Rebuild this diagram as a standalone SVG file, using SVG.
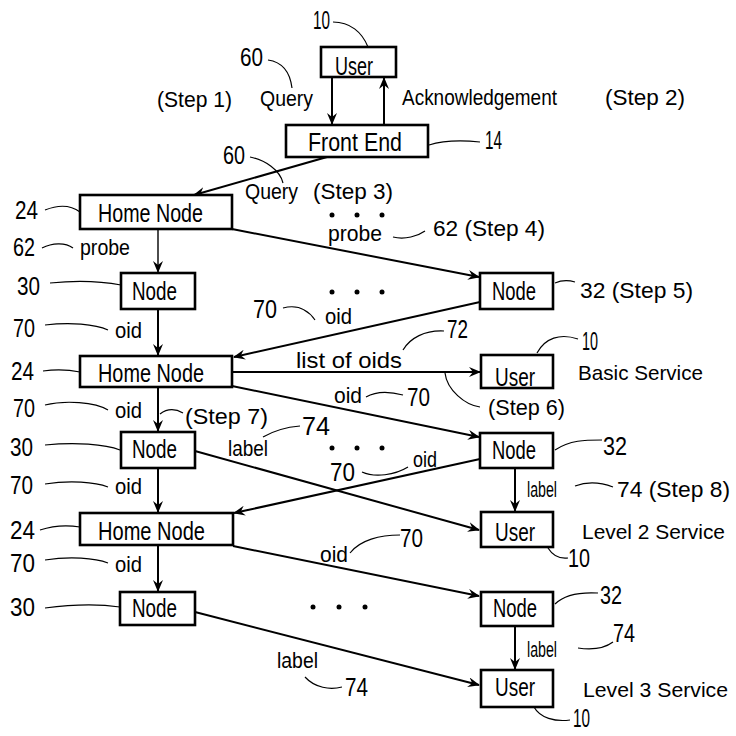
<svg xmlns="http://www.w3.org/2000/svg" width="736" height="736" viewBox="0 0 736 736">
<style>
text{font-family:"Liberation Sans","DejaVu Sans",sans-serif;fill:#000}
.bl{font-size:26px}
.n{font-size:25px}
.s{font-size:22px}
.l{font-size:22px}
.v{font-size:21px}
.box{fill:#fff;stroke:#000;stroke-width:2.6}
.con{fill:none;stroke:#000;stroke-width:2}
.thin{fill:none;stroke:#000;stroke-width:1.4}
.lead{fill:none;stroke:#000;stroke-width:1.2}
</style>
<defs>
<marker id="ar" viewBox="0 0 12 10" refX="11" refY="5" markerWidth="12" markerHeight="10" markerUnits="userSpaceOnUse" orient="auto">
<path d="M0,0 L12,5 L0,10 L4,5 z" fill="#000"/>
</marker>
</defs>
<rect width="736" height="736" fill="#fff"/>
<g id="connectors">
<path class="con" d="M332,78 L332,124" marker-end="url(#ar)"/>
<path class="con" d="M384,125 L384,78" marker-end="url(#ar)"/>
<path class="con" d="M327,157 L194,195" marker-end="url(#ar)"/>
<path class="con" d="M232,229 L479,277" marker-end="url(#ar)"/>
<path class="thin" d="M158,229 L158,272" marker-end="url(#ar)"/>
<path class="con" d="M158,309 L158,355" marker-end="url(#ar)"/>
<path class="con" d="M480,302 L234,357" marker-end="url(#ar)"/>
<path class="con" d="M232,372 L480,372" marker-end="url(#ar)"/>
<path class="con" d="M232,386 L479,437" marker-end="url(#ar)"/>
<path class="con" d="M158,387 L158,431" marker-end="url(#ar)"/>
<path class="con" d="M195,451 L479,530" marker-end="url(#ar)"/>
<path class="con" d="M480,459 L234,513" marker-end="url(#ar)"/>
<path class="con" d="M158,468 L158,512" marker-end="url(#ar)"/>
<path class="con" d="M515,468 L515,511" marker-end="url(#ar)"/>
<path class="con" d="M158,545 L158,591" marker-end="url(#ar)"/>
<path class="con" d="M233,546 L479,596" marker-end="url(#ar)"/>
<path class="con" d="M195,612 L479,685" marker-end="url(#ar)"/>
<path class="con" d="M515,626 L515,669" marker-end="url(#ar)"/>
</g>
<g id="leaders">
<path class="lead" d="M333,22 C350,22 362,32 368,47"/>
<path class="lead" d="M268,60 C282,62 290,72 292,88"/>
<path class="lead" d="M429,145 C445,140 460,140 480,142"/>
<path class="lead" d="M250,157 C265,160 280,170 283,183"/>
<path class="lead" d="M393,237 C405,240 418,236 425,231"/>
<path class="lead" d="M45,210 C60,204 72,206 80,212"/>
<path class="lead" d="M42,248 C52,243 65,242 73,248"/>
<path class="lead" d="M50,283 C80,280 105,282 121,285"/>
<path class="lead" d="M45,325 C70,322 95,324 108,330"/>
<path class="lead" d="M283,308 C298,304 308,310 315,320"/>
<path class="lead" d="M444,331 C425,330 410,338 403,350"/>
<path class="lead" d="M578,339 C560,333 545,338 537,353"/>
<path class="lead" d="M555,283 C562,280 568,280 575,282"/>
<path class="lead" d="M43,371 C58,369 70,370 80,372"/>
<path class="lead" d="M366,397 C378,390 392,392 403,395"/>
<path class="lead" d="M445,373 C447,390 465,405 480,407"/>
<path class="lead" d="M45,405 C65,400 95,402 108,410"/>
<path class="lead" d="M160,414 C168,408 176,409 183,413"/>
<path class="lead" d="M263,437 C275,430 288,427 300,426"/>
<path class="lead" d="M45,445 C75,442 105,444 120,450"/>
<path class="lead" d="M555,450 C570,440 585,440 602,440"/>
<path class="lead" d="M362,472 C375,478 395,475 408,467"/>
<path class="lead" d="M575,486 C588,481 600,482 613,487"/>
<path class="lead" d="M45,484 C70,480 95,482 108,487"/>
<path class="lead" d="M40,530 C55,525 68,525 80,527"/>
<path class="lead" d="M548,548 C553,556 560,559 568,558"/>
<path class="lead" d="M350,553 C360,540 380,535 400,535"/>
<path class="lead" d="M45,560 C70,556 95,558 108,563"/>
<path class="lead" d="M45,608 C75,604 100,604 120,607"/>
<path class="lead" d="M555,604 C565,594 580,592 598,593"/>
<path class="lead" d="M578,648 C592,650 605,648 613,642"/>
<path class="lead" d="M534,707 C540,718 555,722 570,720"/>
<path class="lead" d="M305,677 C315,688 330,690 342,687"/>
</g>
<g id="dots" fill="#000">
<circle cx="332" cy="215" r="2.5"/><circle cx="357" cy="215" r="2.5"/><circle cx="382" cy="215" r="2.5"/>
<circle cx="332" cy="292" r="2.5"/><circle cx="357" cy="292" r="2.5"/><circle cx="382" cy="292" r="2.5"/>
<circle cx="332" cy="448" r="2.5"/><circle cx="357" cy="448" r="2.5"/><circle cx="382" cy="448" r="2.5"/>
<circle cx="313" cy="607" r="2.5"/><circle cx="339" cy="607" r="2.5"/><circle cx="365" cy="607" r="2.5"/>
</g>
<g id="user-top"><rect class="box" x="321" y="47" width="75" height="30"/><text class="bl" x="335" y="75" textLength="38" lengthAdjust="spacingAndGlyphs">User</text></g>
<g id="front-end"><rect class="box" x="286" y="125" width="142" height="32"/><text class="bl" x="308" y="151" textLength="94" lengthAdjust="spacingAndGlyphs">Front End</text></g>
<g id="home-node-1"><rect class="box" x="80" y="195" width="152" height="34"/><text class="bl" x="98" y="222" textLength="105" lengthAdjust="spacingAndGlyphs">Home Node</text></g>
<g id="node-30-a"><rect class="box" x="121" y="273" width="74" height="36"/><text class="bl" x="132" y="300" textLength="45" lengthAdjust="spacingAndGlyphs">Node</text></g>
<g id="node-32-a"><rect class="box" x="480" y="273" width="73" height="36"/><text class="bl" x="492" y="300" textLength="44" lengthAdjust="spacingAndGlyphs">Node</text></g>
<g id="home-node-2"><rect class="box" x="80" y="356" width="152" height="31"/><text class="bl" x="98" y="382" textLength="106" lengthAdjust="spacingAndGlyphs">Home Node</text></g>
<g id="user-basic"><rect class="box" x="481" y="355" width="72" height="33"/><text class="bl" x="495" y="386" textLength="40" lengthAdjust="spacingAndGlyphs">User</text></g>
<g id="node-30-b"><rect class="box" x="121" y="432" width="74" height="36"/><text class="bl" x="132" y="458" textLength="45" lengthAdjust="spacingAndGlyphs">Node</text></g>
<g id="node-32-b"><rect class="box" x="480" y="433" width="73" height="35"/><text class="bl" x="492" y="459" textLength="44" lengthAdjust="spacingAndGlyphs">Node</text></g>
<g id="home-node-3"><rect class="box" x="80" y="513" width="153" height="32"/><text class="bl" x="98" y="540" textLength="107" lengthAdjust="spacingAndGlyphs">Home Node</text></g>
<g id="user-l2"><rect class="box" x="481" y="512" width="72" height="35"/><text class="bl" x="495" y="541" textLength="40" lengthAdjust="spacingAndGlyphs">User</text></g>
<g id="node-30-c"><rect class="box" x="120" y="592" width="75" height="33"/><text class="bl" x="132" y="617" textLength="45" lengthAdjust="spacingAndGlyphs">Node</text></g>
<g id="node-32-c"><rect class="box" x="481" y="592" width="72" height="34"/><text class="bl" x="493" y="617" textLength="44" lengthAdjust="spacingAndGlyphs">Node</text></g>
<g id="user-l3"><rect class="box" x="481" y="670" width="72" height="37"/><text class="bl" x="495" y="696" textLength="40" lengthAdjust="spacingAndGlyphs">User</text></g>
<g id="labels">
<text class="n" x="313" y="29" textLength="17" lengthAdjust="spacingAndGlyphs">10</text>
<text class="n" x="240" y="66" textLength="23" lengthAdjust="spacingAndGlyphs">60</text>
<text class="s" x="157" y="107" textLength="75" lengthAdjust="spacingAndGlyphs">(Step 1)</text>
<text class="s" x="260" y="106" textLength="53" lengthAdjust="spacingAndGlyphs">Query</text>
<text class="s" x="402" y="105" textLength="155" lengthAdjust="spacingAndGlyphs">Acknowledgement</text>
<text class="s" x="605" y="105" textLength="80" lengthAdjust="spacingAndGlyphs">(Step 2)</text>
<text class="n" x="485" y="149" textLength="17" lengthAdjust="spacingAndGlyphs">14</text>
<text class="n" x="223" y="164" textLength="22" lengthAdjust="spacingAndGlyphs">60</text>
<text class="s" x="245" y="199" textLength="53" lengthAdjust="spacingAndGlyphs">Query</text>
<text class="s" x="313" y="199" textLength="80" lengthAdjust="spacingAndGlyphs">(Step 3)</text>
<text class="l" x="328" y="241" textLength="54" lengthAdjust="spacingAndGlyphs">probe</text>
<text class="s" x="433" y="236" textLength="112" lengthAdjust="spacingAndGlyphs">62 (Step 4)</text>
<text class="n" x="15" y="219" textLength="23" lengthAdjust="spacingAndGlyphs">24</text>
<text class="n" x="13" y="256" textLength="22" lengthAdjust="spacingAndGlyphs">62</text>
<text class="l" x="80" y="255" textLength="50" lengthAdjust="spacingAndGlyphs">probe</text>
<text class="n" x="17" y="295" textLength="23" lengthAdjust="spacingAndGlyphs">30</text>
<text class="n" x="13" y="337" textLength="22" lengthAdjust="spacingAndGlyphs">70</text>
<text class="l" x="115" y="338" textLength="27" lengthAdjust="spacingAndGlyphs">oid</text>
<text class="n" x="253" y="318" textLength="24" lengthAdjust="spacingAndGlyphs">70</text>
<text class="l" x="325" y="324" textLength="27" lengthAdjust="spacingAndGlyphs">oid</text>
<text class="s" x="580" y="298" textLength="113" lengthAdjust="spacingAndGlyphs">32 (Step 5)</text>
<text class="n" x="447" y="338" textLength="21" lengthAdjust="spacingAndGlyphs">72</text>
<text class="l" x="296" y="368" textLength="106" lengthAdjust="spacingAndGlyphs">list of oids</text>
<text class="n" x="582" y="350" textLength="16" lengthAdjust="spacingAndGlyphs">10</text>
<text class="v" x="578" y="380" textLength="125" lengthAdjust="spacingAndGlyphs">Basic Service</text>
<text class="n" x="11" y="380" textLength="23" lengthAdjust="spacingAndGlyphs">24</text>
<text class="l" x="334" y="403" textLength="28" lengthAdjust="spacingAndGlyphs">oid</text>
<text class="n" x="407" y="406" textLength="23" lengthAdjust="spacingAndGlyphs">70</text>
<text class="s" x="488" y="415" textLength="77" lengthAdjust="spacingAndGlyphs">(Step 6)</text>
<text class="n" x="13" y="417" textLength="22" lengthAdjust="spacingAndGlyphs">70</text>
<text class="l" x="115" y="418" textLength="27" lengthAdjust="spacingAndGlyphs">oid</text>
<text class="s" x="185" y="424" textLength="83" lengthAdjust="spacingAndGlyphs">(Step 7)</text>
<text class="n" x="302" y="435" textLength="28" lengthAdjust="spacingAndGlyphs">74</text>
<text class="l" x="228" y="456" textLength="40" lengthAdjust="spacingAndGlyphs">label</text>
<text class="n" x="10" y="456" textLength="23" lengthAdjust="spacingAndGlyphs">30</text>
<text class="n" x="603" y="455" textLength="24" lengthAdjust="spacingAndGlyphs">32</text>
<text class="n" x="330" y="481" textLength="25" lengthAdjust="spacingAndGlyphs">70</text>
<text class="l" x="413" y="467" textLength="24" lengthAdjust="spacingAndGlyphs">oid</text>
<text class="n" x="10" y="494" textLength="23" lengthAdjust="spacingAndGlyphs">70</text>
<text class="l" x="115" y="494" textLength="27" lengthAdjust="spacingAndGlyphs">oid</text>
<text class="l" x="527" y="497" textLength="30" lengthAdjust="spacingAndGlyphs">label</text>
<text class="s" x="617" y="497" textLength="113" lengthAdjust="spacingAndGlyphs">74 (Step 8)</text>
<text class="v" x="582" y="539" textLength="143" lengthAdjust="spacingAndGlyphs">Level 2 Service</text>
<text class="n" x="568" y="567" textLength="22" lengthAdjust="spacingAndGlyphs">10</text>
<text class="n" x="10" y="539" textLength="25" lengthAdjust="spacingAndGlyphs">24</text>
<text class="l" x="320" y="562" textLength="28" lengthAdjust="spacingAndGlyphs">oid</text>
<text class="n" x="400" y="547" textLength="23" lengthAdjust="spacingAndGlyphs">70</text>
<text class="n" x="10" y="572" textLength="25" lengthAdjust="spacingAndGlyphs">70</text>
<text class="l" x="115" y="572" textLength="27" lengthAdjust="spacingAndGlyphs">oid</text>
<text class="n" x="10" y="616" textLength="25" lengthAdjust="spacingAndGlyphs">30</text>
<text class="n" x="600" y="604" textLength="22" lengthAdjust="spacingAndGlyphs">32</text>
<text class="n" x="613" y="642" textLength="22" lengthAdjust="spacingAndGlyphs">74</text>
<text class="l" x="527" y="657" textLength="30" lengthAdjust="spacingAndGlyphs">label</text>
<text class="v" x="583" y="697" textLength="145" lengthAdjust="spacingAndGlyphs">Level 3 Service</text>
<text class="n" x="573" y="727" textLength="17" lengthAdjust="spacingAndGlyphs">10</text>
<text class="l" x="277" y="668" textLength="41" lengthAdjust="spacingAndGlyphs">label</text>
<text class="n" x="345" y="696" textLength="23" lengthAdjust="spacingAndGlyphs">74</text>
</g>
</svg>
